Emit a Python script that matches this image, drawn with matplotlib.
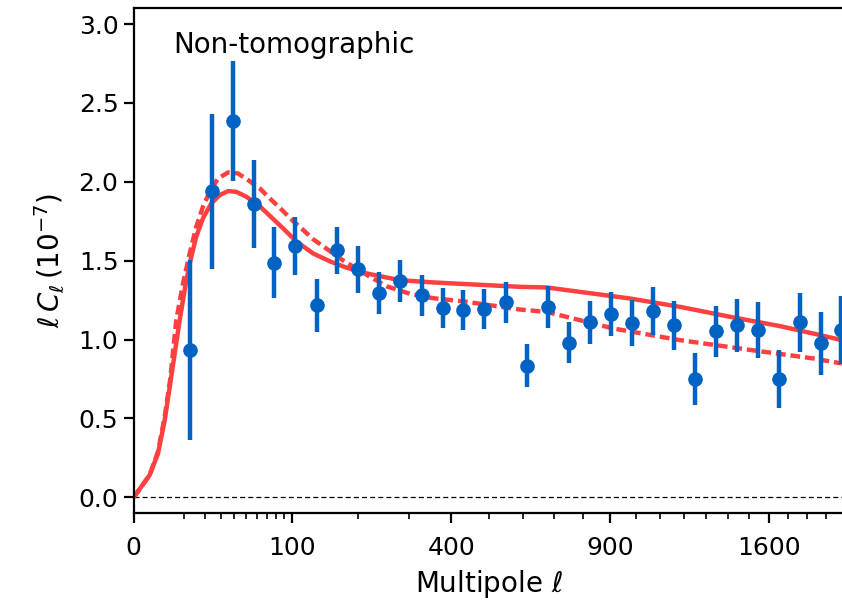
import numpy as np
import matplotlib
matplotlib.use("Agg")
import matplotlib.pyplot as plt
from matplotlib.ticker import FixedLocator, NullFormatter

plt.rcParams['font.family'] = ['DejaVu Sans']
plt.rcParams['mathtext.fontset'] = 'dejavusans'

# binned measurement
ell_data = [12.7, 24.1, 39.1, 57.1, 78.4, 103.6, 132.9, 164.5, 200, 238.7,
            282, 329, 378.8, 431, 487.6, 549, 612.7, 680, 751, 826,
            903.8, 984, 1068.7, 1158, 1250, 1345, 1444, 1548, 1653, 1763,
            1876, 1983]
cl_data = [0.934, 1.94, 2.383, 1.86, 1.486, 1.594, 1.216, 1.565, 1.444, 1.296,
           1.37, 1.281, 1.197, 1.186, 1.192, 1.235, 0.833, 1.207, 0.981, 1.108,
           1.161, 1.106, 1.182, 1.089, 0.748, 1.053, 1.089, 1.061, 0.748, 1.11,
           0.975, 1.059]
cl_err = [0.57, 0.49, 0.38, 0.28, 0.225, 0.183, 0.166, 0.15, 0.146, 0.135,
          0.135, 0.13, 0.127, 0.127, 0.127, 0.132, 0.137, 0.134, 0.132, 0.137,
          0.14, 0.145, 0.151, 0.155, 0.164, 0.161, 0.166, 0.177, 0.185, 0.187,
          0.2, 0.215]

# model curves
ell_solid = [0, 1, 2.34, 3.81, 5.14, 6.67, 8.39, 10.3, 12.44, 15.5, 19.0,
             23.9, 29.3, 35.3, 41.8, 50.3, 63, 77, 88.4, 105.4, 128, 152.9,
             180, 215.4, 281.3, 356, 439.9, 592, 676.6, 790, 977, 1184, 1411,
             1657, 1832, 1990]
cl_solid = [0, 0.14, 0.277, 0.488, 0.70, 0.911, 1.123, 1.313, 1.482, 1.651, 1.768,
            1.863, 1.915, 1.941, 1.936, 1.905, 1.845, 1.765, 1.705, 1.62, 1.545, 1.495,
            1.455, 1.419, 1.376, 1.362, 1.351, 1.334, 1.33, 1.302, 1.26, 1.207, 1.144,
            1.085, 1.038, 0.996]

ell_dash = [0, 1, 2.34, 3.81, 5.3, 7.2, 9.64, 12.44, 15.5, 19.0, 22.9, 28.2,
            35.3, 43.1, 51.8, 63, 77, 88.4, 101, 115, 128, 152.9, 174.3, 215.4,
            254, 302.8, 356, 439.9, 592, 676.6, 912.6, 1184, 1491, 1832, 1990]
cl_dash = [0, 0.14, 0.29, 0.51, 0.75, 1.123, 1.355, 1.546, 1.714, 1.841, 1.936,
           2.021, 2.059, 2.053, 2.011, 1.958, 1.875, 1.815, 1.75, 1.69, 1.635, 1.56,
           1.50, 1.41, 1.337, 1.29, 1.262, 1.239, 1.19, 1.175, 1.07, 0.996, 0.937,
           0.88, 0.848]

major_ticks = [0, 100, 400, 900, 1600]
minor_ticks = [10, 20, 30, 40, 50, 60, 70, 80, 90] + \
              [200, 300, 500, 600, 700, 800, 1000, 1100, 1200, 1300, 1400, 1500,
               1700, 1800, 1900]

red = '#ff4040'
blue = '#0062c2'

fig = plt.figure(figsize=(8.42, 6.05), dpi=100)
ax = fig.add_axes([0.1588, 0.152, 0.8432, 0.8344])

ax.set_xscale('function', functions=(lambda x: np.sqrt(np.clip(x, 0, None)), np.square))

ax.axhline(0, color='k', lw=0.9, ls=(0, (4, 2.5)), zorder=1)
ax.plot(ell_solid, cl_solid, color=red, lw=3.2, zorder=2)
ax.plot(ell_dash, cl_dash, color=red, lw=3.2, dashes=(2.2, 1.1), zorder=2)
ax.errorbar(ell_data, cl_data, yerr=cl_err, fmt='o', color=blue, ms=9.5,
            elinewidth=3.2, capsize=0, zorder=3)

ax.set_xlim(0, 2000)
ax.set_ylim(-0.1, 3.1)
ax.xaxis.set_major_locator(FixedLocator(major_ticks))
ax.xaxis.set_minor_locator(FixedLocator(minor_ticks))
ax.xaxis.set_minor_formatter(NullFormatter())
ax.set_xticklabels([str(t) for t in major_ticks])
ax.set_yticks([0, 0.5, 1.0, 1.5, 2.0, 2.5, 3.0])

for s in ax.spines.values():
    s.set_linewidth(1.6)
ax.tick_params(axis='both', which='major', labelsize=18, width=1.6, length=7.5)
ax.tick_params(axis='x', which='major', pad=9)
ax.tick_params(axis='x', which='minor', width=1.2, length=4)

ax.set_xlabel(r'Multipole $\ell$', fontsize=20, labelpad=6)
ax.set_ylabel(r'$\ell\,C_\ell\,(10^{-7})$', fontsize=20, labelpad=8)
ax.text(0.055, 0.955, 'Non-tomographic', transform=ax.transAxes,
        fontsize=20, va='top', ha='left')

fig.savefig('out.png', dpi=100)
